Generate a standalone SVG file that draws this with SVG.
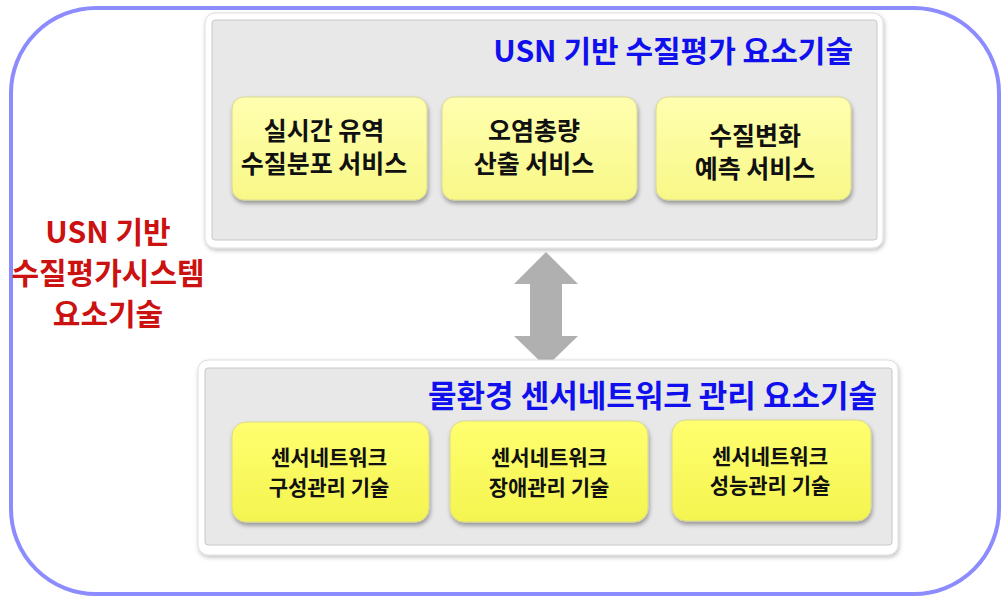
<svg xmlns="http://www.w3.org/2000/svg" width="1002" height="598" viewBox="0 0 1002 598">
<defs>
<linearGradient id="ytop" x1="0" y1="0" x2="0" y2="1"><stop offset="0" stop-color="#ffffb0"/><stop offset="1" stop-color="#f8f888"/></linearGradient>
<linearGradient id="ybot" x1="0" y1="0" x2="0" y2="1"><stop offset="0" stop-color="#ffff70"/><stop offset="1" stop-color="#f4f450"/></linearGradient>
<filter id="sh" x="-10%" y="-10%" width="120%" height="130%"><feDropShadow dx="1" dy="3" stdDeviation="2" flood-color="#000" flood-opacity="0.35"/></filter>
<filter id="psh" x="-5%" y="-5%" width="110%" height="115%"><feDropShadow dx="1" dy="2" stdDeviation="2" flood-color="#000" flood-opacity="0.25"/></filter>
</defs>
<style>
.panel{fill:#ffffff;stroke:#dddddd;stroke-width:1}
.inner{fill:#e8e8e8;stroke:#c8c8c8;stroke-width:1}
.box{stroke:#d8d890;stroke-width:1}
.t{font-family:"Noto Sans CJK KR","Liberation Sans",sans-serif;font-weight:bold;text-anchor:middle}
.bt{font-size:25px;fill:#111}
.sbt{font-size:21px;fill:#111}
.title{font-size:30px;fill:#1010ee;text-anchor:end}
.red{font-size:30px;fill:#cc1111}
</style>
<rect x="11" y="8" width="988" height="586" rx="85" fill="#fff" stroke="#8c8cff" stroke-width="4"/>
<g id="left-label">
<text class="t red" x="108" y="243">USN 기반</text>
<text class="t red" x="108" y="284">수질평가시스템</text>
<text class="t red" x="108" y="325">요소기술</text>
</g>
<g id="top-panel">
<rect class="panel" x="205" y="13" width="678" height="235" rx="10" filter="url(#psh)"/>
<rect class="inner" x="212" y="20" width="665" height="220" rx="3"/>
<text class="t title" x="853" y="62">USN 기반 수질평가 요소기술</text>
</g>
<g id="box-t1">
<rect class="box" x="232" y="97" width="195" height="103" rx="12" fill="url(#ytop)" filter="url(#sh)"/>
<text class="t bt" x="324" y="140">실시간 유역</text>
<text class="t bt" x="324" y="173">수질분포 서비스</text>
</g>
<g id="box-t2">
<rect class="box" x="442" y="97" width="195" height="103" rx="12" fill="url(#ytop)" filter="url(#sh)"/>
<text class="t bt" x="534" y="140">오염총량</text>
<text class="t bt" x="534" y="173">산출 서비스</text>
</g>
<g id="box-t3">
<rect class="box" x="656" y="97" width="195" height="103" rx="12" fill="url(#ytop)" filter="url(#sh)"/>
<text class="t bt" x="755" y="145">수질변화</text>
<text class="t bt" x="755" y="178">예측 서비스</text>
</g>
<g id="connectors">
<polygon points="546,252 578,284 562,284 562,336 578,336 546,367 514,336 530,336 530,284 514,284" fill="#b0b0b0"/>
</g>
<g id="bottom-panel">
<rect class="panel" x="198" y="360" width="700" height="195" rx="10" filter="url(#psh)"/>
<rect class="inner" x="205" y="368" width="687" height="177" rx="3"/>
<text class="t title" x="877" y="407" style="font-size:31px">물환경 센서네트워크 관리 요소기술</text>
</g>
<g id="box-b1">
<rect class="box" x="232" y="422" width="197" height="100" rx="14" fill="url(#ybot)" filter="url(#sh)"/>
<text class="t sbt" x="329" y="465">센서네트워크</text>
<text class="t sbt" x="329" y="495">구성관리 기술</text>
</g>
<g id="box-b2">
<rect class="box" x="450" y="421" width="198" height="101" rx="14" fill="url(#ybot)" filter="url(#sh)"/>
<text class="t sbt" x="549" y="465">센서네트워크</text>
<text class="t sbt" x="549" y="495">장애관리 기술</text>
</g>
<g id="box-b3">
<rect class="box" x="672" y="420" width="199" height="101" rx="14" fill="url(#ybot)" filter="url(#sh)"/>
<text class="t sbt" x="770" y="464">센서네트워크</text>
<text class="t sbt" x="770" y="493">성능관리 기술</text>
</g>
</svg>
